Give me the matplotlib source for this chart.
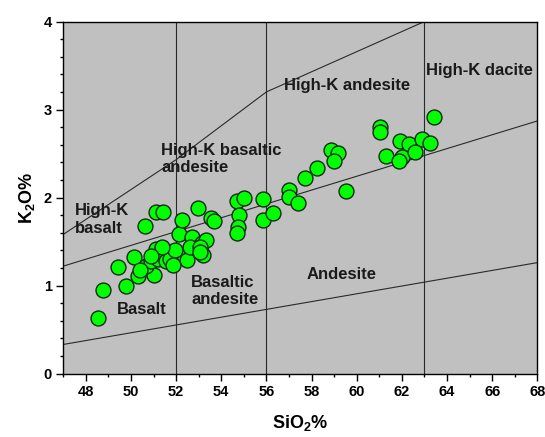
import matplotlib
matplotlib.use('Agg')
import matplotlib.pyplot as plt
from matplotlib.ticker import MultipleLocator

plt.rcParams['font.family'] = ['Liberation Sans', 'DejaVu Sans']
plt.rcParams['font.weight'] = 'bold'
plt.rcParams['mathtext.fontset'] = 'custom'
plt.rcParams['mathtext.bf'] = 'Liberation Sans:bold'
plt.rcParams['mathtext.rm'] = 'Liberation Sans:bold'

# sample data
sio2 = [48.54, 48.74, 49.78, 49.41, 50.31, 50.15, 50.60, 51.12, 51.42, 51.02,
        50.68, 50.90, 51.12, 51.21, 51.56, 51.74, 51.97, 52.11, 52.26, 52.49,
        52.70, 52.62, 53.14, 53.21, 53.32, 52.95, 53.54, 53.69, 51.37, 53.04,
        50.88, 50.41, 51.88, 53.07,
        54.69, 54.99, 54.79, 54.75, 54.69, 55.83, 55.83, 56.28, 56.98, 57.02,
        57.40, 57.69, 58.22, 58.88, 59.18, 58.99, 59.51,
        61.04, 61.04, 61.93, 62.30, 62.90, 63.23, 61.29, 62.00, 61.88, 62.57,
        63.42]
k2o = [0.63, 0.95, 1.00, 1.21, 1.11, 1.32, 1.68, 1.84, 1.84, 1.12,
       1.22, 1.28, 1.42, 1.30, 1.28, 1.30, 1.40, 1.59, 1.74, 1.29,
       1.55, 1.44, 1.48, 1.35, 1.52, 1.88, 1.77, 1.73, 1.44, 1.44,
       1.33, 1.18, 1.23, 1.38,
       1.96, 2.00, 1.80, 1.67, 1.60, 1.98, 1.75, 1.82, 2.09, 2.01,
       1.94, 2.22, 2.33, 2.54, 2.51, 2.41, 2.07,
       2.80, 2.74, 2.64, 2.61, 2.67, 2.62, 2.47, 2.46, 2.42, 2.52,
       2.91]

# classification boundaries
upper_x = [47, 52, 56, 63]
upper_y = [1.58, 2.43, 3.2, 4.0]
mid_x = [47, 68]
mid_y = [1.22, 2.87]
low_x = [47, 68]
low_y = [0.33, 1.26]
vlines = [52, 56, 63]

labels = [
    ('High-K andesite', 59.57, 3.27, 'center'),
    ('High-K dacite', 65.45, 3.44, 'center'),
    ('High-K basaltic\nandesite', 51.34, 2.44, 'left'),
    ('High-K\nbasalt', 47.53, 1.75, 'left'),
    ('Basaltic\nandesite', 52.67, 0.94, 'left'),
    ('Andesite', 59.35, 1.125, 'center'),
    ('Basalt', 50.47, 0.73, 'center'),
]

fig = plt.figure(figsize=(5.45, 4.37), dpi=100)
ax = fig.add_axes([0.116, 0.1453, 0.870, 0.8055])
ax.set_facecolor('#c0c0c0')

line_kw = dict(color='#2a2a2a', lw=0.8, zorder=2)
ax.plot(upper_x, upper_y, **line_kw)
ax.plot(mid_x, mid_y, **line_kw)
ax.plot(low_x, low_y, **line_kw)
for v in vlines:
    ax.plot([v, v], [0, 4], **line_kw)

ax.scatter(sio2, k2o, s=115, c='#00ff00', edgecolors='#0f2a0f', linewidths=1.0, zorder=3)

for txt, x, y, ha in labels:
    ax.text(x, y, txt, ha=ha, va='center', fontsize=12, fontweight='bold',
            color='#1a1a1a', zorder=4)

ax.set_xlim(47, 68)
ax.set_ylim(0, 4)
ax.xaxis.set_major_locator(MultipleLocator(2))
ax.xaxis.set_minor_locator(MultipleLocator(1))
ax.yaxis.set_major_locator(MultipleLocator(1))
ax.yaxis.set_minor_locator(MultipleLocator(0.2))
ax.tick_params(which='major', length=5, width=1, labelsize=10.5, pad=3)
ax.tick_params(which='minor', length=2.5, width=1)
for lab in ax.get_xticklabels() + ax.get_yticklabels():
    lab.set_fontweight('bold')
for sp in ax.spines.values():
    sp.set_linewidth(1)

ax.set_xlabel(r'SiO$_\mathbf{2}$%', fontsize=13, fontweight='bold', labelpad=10)
ax.set_ylabel(r'K$_\mathbf{2}$O%', fontsize=13, fontweight='bold', labelpad=5)

fig.savefig('out.png', dpi=100)
